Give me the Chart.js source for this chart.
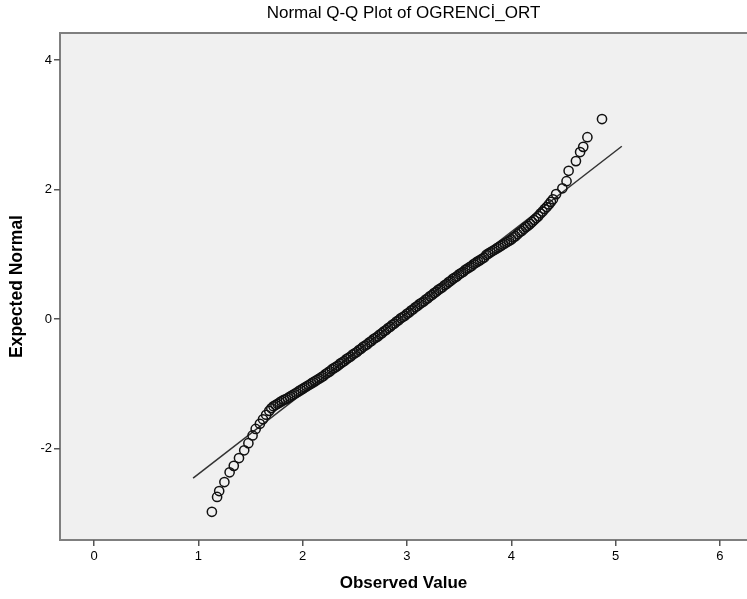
<!DOCTYPE html>
<html>
<head>
<meta charset="utf-8">
<script src="https://cdn.jsdelivr.net/npm/chart.js@4.4.1/dist/chart.umd.min.js"></script>
<style>
    html, body { margin: 0; padding: 0; background: #ffffff; }
    #wrap { width: 747px; height: 599px; }
</style>
</head>
<body>
<div id="wrap"><canvas id="qqChart" width="747" height="599"></canvas></div>
<script>
    const observed = [
        1.13, 1.18, 1.20, 1.25, 1.30, 1.34, 1.39, 1.44, 1.48, 1.52,
        1.55, 1.59, 1.62, 1.65, 1.68, 1.70,
        1.72, 1.74, 1.76, 1.78, 1.80, 1.82, 1.84, 1.86, 1.88, 1.90,
        1.92, 1.94, 1.96, 1.98, 2.00, 2.02, 2.04, 2.06, 2.08, 2.10,
        2.12, 2.14, 2.16, 2.18, 2.20, 2.22, 2.24, 2.26, 2.28, 2.30,
        2.32, 2.34, 2.36, 2.38, 2.40, 2.42, 2.44, 2.46, 2.48, 2.50,
        2.52, 2.54, 2.56, 2.58, 2.60, 2.62, 2.64, 2.66, 2.68, 2.70,
        2.72, 2.74, 2.76, 2.78, 2.80, 2.82, 2.84, 2.86, 2.88, 2.90,
        2.92, 2.94, 2.96, 2.98, 3.00, 3.02, 3.04, 3.06, 3.08, 3.10,
        3.12, 3.14, 3.16, 3.18, 3.20, 3.22, 3.24, 3.26, 3.28, 3.30,
        3.32, 3.34, 3.36, 3.38, 3.40, 3.42, 3.44, 3.46, 3.48, 3.50,
        3.52, 3.54, 3.56, 3.58, 3.60, 3.62, 3.64, 3.66, 3.68, 3.70,
        3.72, 3.74, 3.76, 3.78, 3.80, 3.82, 3.84, 3.86, 3.88, 3.90,
        3.92, 3.94, 3.96, 3.98, 4.00, 4.02, 4.04, 4.06, 4.08, 4.10,
        4.12, 4.14, 4.16, 4.18, 4.20, 4.22, 4.24, 4.26, 4.28, 4.30,
        4.32, 4.34, 4.36, 4.38, 4.40, 4.43,
        4.49, 4.53, 4.55, 4.62, 4.66, 4.69, 4.73, 4.87
    ];
    const expected = [
        -2.98, -2.75, -2.66, -2.52, -2.37, -2.27, -2.15, -2.03, -1.92, -1.80,
        -1.70, -1.62, -1.55, -1.48, -1.42, -1.38,
        -1.35, -1.33, -1.31, -1.29, -1.27, -1.25, -1.24, -1.22, -1.20, -1.18,
        -1.16, -1.14, -1.12, -1.10, -1.08, -1.06, -1.04, -1.02, -1.00, -0.98,
        -0.96, -0.94, -0.92, -0.90, -0.88, -0.85, -0.83, -0.81, -0.78, -0.76,
        -0.74, -0.72, -0.69, -0.67, -0.65, -0.62, -0.60, -0.58, -0.55, -0.53,
        -0.51, -0.48, -0.46, -0.43, -0.41, -0.39, -0.36, -0.34, -0.31, -0.29,
        -0.27, -0.24, -0.22, -0.19, -0.17, -0.14, -0.12, -0.09, -0.07, -0.04,
        -0.02, 0.01, 0.03, 0.05, 0.08, 0.10, 0.13, 0.15, 0.18, 0.20,
        0.23, 0.25, 0.27, 0.30, 0.32, 0.35, 0.37, 0.40, 0.42, 0.45,
        0.47, 0.49, 0.52, 0.54, 0.57, 0.59, 0.62, 0.64, 0.66, 0.69,
        0.71, 0.73, 0.76, 0.78, 0.80, 0.82, 0.85, 0.87, 0.89, 0.91,
        0.93, 0.95, 0.99, 1.01, 1.03, 1.05, 1.07, 1.09, 1.11, 1.13,
        1.15, 1.17, 1.19, 1.21, 1.23, 1.26, 1.28, 1.31, 1.34, 1.36,
        1.39, 1.42, 1.44, 1.47, 1.50, 1.53, 1.56, 1.59, 1.63, 1.66,
        1.70, 1.73, 1.77, 1.81, 1.85, 1.93,
        2.02, 2.13, 2.29, 2.44, 2.58, 2.66, 2.81, 3.09
    ];

    // Reference line end points
    const lineX = [0.95, 5.06];
    const lineY = [-2.46, 2.67];

    const xTicks = [0, 1, 2, 3, 4, 5, 6];
    const yTicks = [-2, 0, 2, 4];

    const FONT = "'Liberation Sans', Arial, sans-serif";

    // grey plot panel, framed on top, left and bottom (right side runs off the page)
    const panelBg = {
        id: 'panelBg',
        beforeDraw(chart) {
            const {ctx, chartArea: a} = chart;
            const right = chart.width + 2;
            ctx.save();
            ctx.fillStyle = '#f0f0f0';
            ctx.fillRect(a.left, a.top, right - a.left, a.bottom - a.top);
            ctx.strokeStyle = '#7f7f7f';
            ctx.lineWidth = 2;
            ctx.beginPath();
            ctx.moveTo(right, a.top);
            ctx.lineTo(a.left, a.top);
            ctx.lineTo(a.left, a.bottom);
            ctx.lineTo(right, a.bottom);
            ctx.stroke();
            ctx.restore();
        }
    };

    new Chart(document.getElementById('qqChart'), {
        type: 'scatter',
        data: {
            datasets: [
                {
                    label: 'Observed',
                    data: observed.map((x, i) => ({x: x, y: expected[i]})),
                    pointStyle: 'circle',
                    pointRadius: 4.6,
                    backgroundColor: 'rgba(0,0,0,0)',
                    borderColor: '#111111',
                    borderWidth: 1.5,
                    showLine: false,
                    order: 1
                },
                {
                    label: 'Line',
                    data: lineX.map((x, i) => ({x: x, y: lineY[i]})),
                    showLine: true,
                    borderColor: '#333333',
                    borderWidth: 1.5,
                    pointRadius: 0,
                    order: 2
                }
            ]
        },
        options: {
            responsive: false,
            animation: false,
            layout: { padding: 0, autoPadding: false },
            plugins: {
                legend: { display: false },
                tooltip: { enabled: false },
                title: {
                    display: true,
                    text: 'Normal Q-Q Plot of OGRENCİ_ORT',
                    fullSize: false,
                    color: '#000000',
                    font: { family: FONT, size: 17, weight: 'normal', lineHeight: 1.2 },
                    padding: { top: 3, bottom: 9.6 }
                }
            },
            scales: {
                x: {
                    type: 'linear',
                    min: -0.326,
                    max: 6.26,
                    afterBuildTicks(scale) { scale.ticks = xTicks.map(v => ({value: v})); },
                    afterFit(scale) { scale.height = 59; },
                    border: { display: false },
                    grid: {
                        drawOnChartArea: false,
                        drawTicks: true,
                        tickLength: 6,
                        color: '#555555',
                        lineWidth: 1.5
                    },
                    ticks: {
                        color: '#000000',
                        padding: 3,
                        maxRotation: 0,
                        font: { family: FONT, size: 13 }
                    },
                    title: {
                        display: true,
                        text: 'Observed Value',
                        color: '#000000',
                        font: { family: FONT, size: 17, weight: 'bold', lineHeight: 1.2 },
                        padding: { top: 0, bottom: 5 }
                    }
                },
                y: {
                    type: 'linear',
                    min: -3.416,
                    max: 4.42,
                    afterBuildTicks(scale) { scale.ticks = yTicks.map(v => ({value: v})); },
                    afterFit(scale) { scale.width = 60; },
                    border: { display: false },
                    grid: {
                        drawOnChartArea: false,
                        drawTicks: true,
                        tickLength: 6,
                        color: '#555555',
                        lineWidth: 1.5
                    },
                    ticks: {
                        color: '#000000',
                        padding: 2,
                        font: { family: FONT, size: 13 }
                    },
                    title: {
                        display: true,
                        text: 'Expected Normal',
                        color: '#000000',
                        font: { family: FONT, size: 17.5, weight: 'bold', lineHeight: 1.2 },
                        padding: { top: 7, bottom: 0 }
                    }
                }
            }
        },
        plugins: [panelBg]
    });
</script>
</body>
</html>
